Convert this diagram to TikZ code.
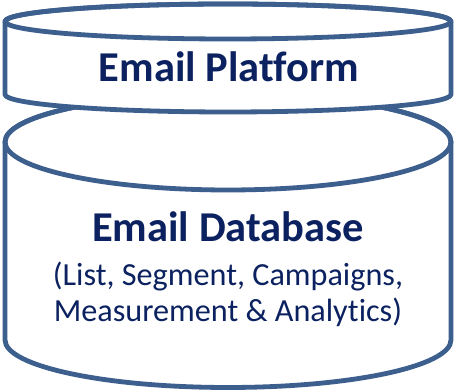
\documentclass[tikz,border=0pt]{standalone}
\usepackage{fontspec}
\setmainfont[Ligatures=NoCommon]{Carlito}
\definecolor{rimblue}{RGB}{60,95,142}
\definecolor{inkblue}{RGB}{12,34,96}
\begin{document}
\begin{tikzpicture}[x=1pt,y=1pt,
  rim/.style={draw=rimblue,line width=4.8pt,line join=round,fill=white},
  titletext/.style={text=inkblue,font=\fontsize{42.5}{50}\selectfont\bfseries,anchor=base,inner sep=0pt},
  bodytext/.style={text=inkblue,font=\fontsize{32.2}{40}\selectfont,anchor=base,inner sep=0pt}]
\useasboundingbox (0,0) rectangle (456,390);
% lower cylinder: database
\path[rim] (5,248) -- (5,50)
  arc[start angle=180,end angle=360,x radius=223,y radius=47.5]
  -- (451,248)
  arc[start angle=0,end angle=180,x radius=223,y radius=48] -- cycle;
\draw[rim,fill=none] (228,248) ellipse[x radius=223,y radius=48];
% upper disk: platform
\path[rim] (5,368.5) -- (5,295.5)
  arc[start angle=180,end angle=360,x radius=223,y radius=17.5]
  -- (451,368.5)
  arc[start angle=0,end angle=180,x radius=223,y radius=17.5] -- cycle;
\draw[rim,fill=none] (228,368.5) ellipse[x radius=223,y radius=17.5];
% labels
\node[titletext] (platform) at (229,308) {Email Platform};
\node[titletext] (database) at (228,148) {Email Database};
\node[bodytext] (line1) at (228,104) {(List, Segment, Campaigns,};
\node[bodytext] (line2) at (228,68) {Measurement \& Analytics)};
\end{tikzpicture}
\end{document}
